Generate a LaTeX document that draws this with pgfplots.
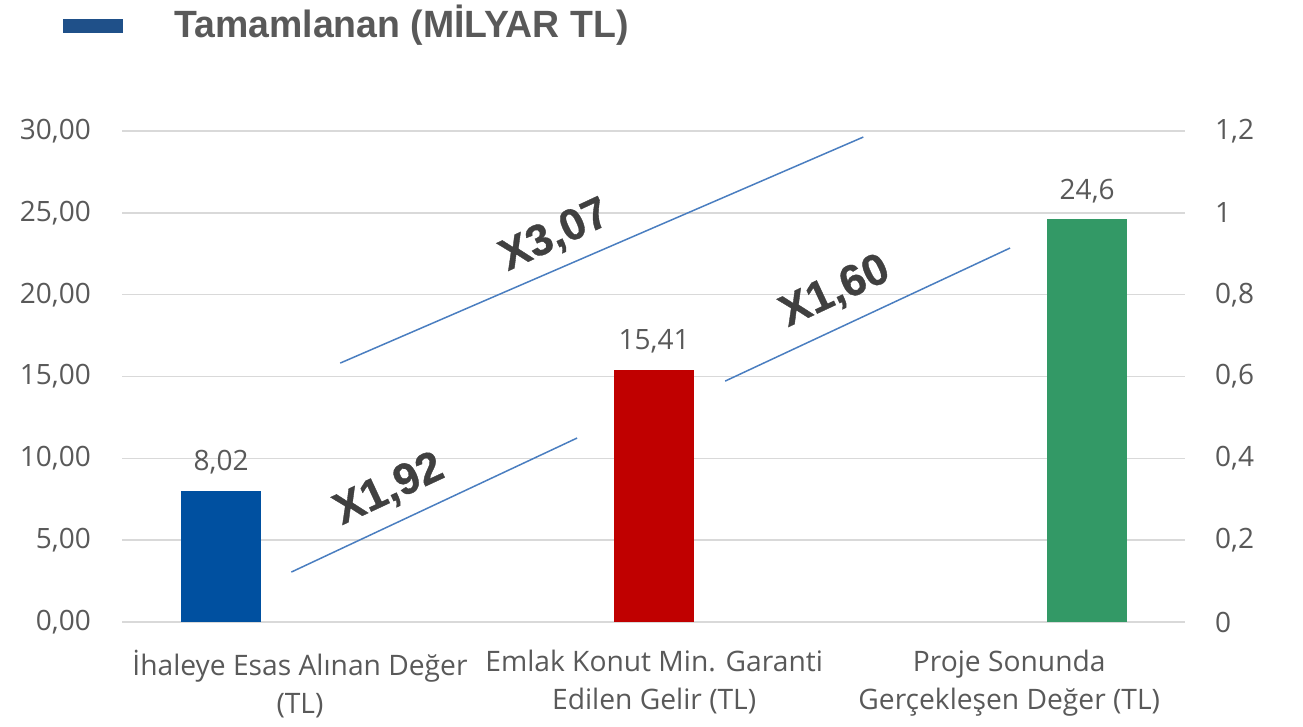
\documentclass[border=0pt]{standalone}
\usepackage{fontspec}
\usepackage{pgfplots}
\pgfplotsset{compat=1.18}
\setmainfont{Open Sans}
\newfontfamily\tickfont{Open Sans}
\newfontfamily\catfont{Open Sans}
\newfontfamily\titlefont[FakeStretch=0.985]{Liberation Sans}
\newfontfamily\annfont[FakeBold=0.8]{Liberation Sans}
\definecolor{txt}{HTML}{595959}
\definecolor{ann}{HTML}{404040}
\definecolor{gridc}{HTML}{D9D9D9}
\definecolor{bA}{HTML}{0050A0}
\definecolor{bB}{HTML}{C00000}
\definecolor{bC}{HTML}{339966}
\definecolor{lnc}{HTML}{4A7EC0}
\definecolor{legc}{HTML}{1F5089}
\begin{document}
\begin{tikzpicture}
\path[use as bounding box] (0,0) rectangle (1303pt,726pt);
\begin{axis}[
  at={(122pt,104pt)}, anchor=south west, scale only axis,
  width=1063pt, height=491pt,
  xmin=-0.229, xmax=2.226, ymin=0, ymax=30,
  ytick={0,5,...,30},
  xtick={0.182,1,1.82},
  xticklabels={{İhaleye Esas Alınan Değer\\(TL)},{Emlak Konut Min. Garanti\\Edilen Gelir (TL)},{Proje Sonunda\\Gerçekleşen Değer (TL)}},
  axis line style={draw=none},
  major tick length=0pt,
  ymajorgrids, grid style={gridc, line width=1.5pt},
  /pgf/number format/assume math mode=true,
  yticklabel style={font=\tickfont\fontsize{28}{30}\selectfont, text=txt, anchor=east, inner sep=0pt, xshift=-31pt,
    /pgf/number format/.cd, fixed, fixed zerofill, precision=2, use comma},
  xticklabel style={font=\catfont\fontsize{28.2}{37.5}\selectfont, text=txt, align=center, anchor=north, inner sep=0pt, yshift=-28pt},
  clip=false,
  legend image code/.code={\fill[#1] (0pt,-6.5pt) rectangle (59pt,6.5pt);},
  legend style={at={(-0.0555,1.2149)}, anchor=west, draw=none, fill=none, inner sep=0pt, outer sep=0pt,
    column sep=0pt, nodes={inner sep=0pt, font=\titlefont\bfseries\fontsize{38}{38}\selectfont, text=txt}},
  nodes near coords style={font=\tickfont\fontsize{28}{30}\selectfont, text=txt, anchor=base, inner sep=0pt, yshift=20pt},
  point meta=explicit symbolic,
]
\addlegendimage{legc}
\addlegendentry{\hspace{52pt}\raisebox{8pt}{Tamamlanan (MİLYAR TL)}}
\addplot[ybar, bar width=80pt, bar shift=0pt, fill=bA, draw=none, nodes near coords] coordinates {(0,8.02) [8,02]};
\addplot[ybar, bar width=80pt, bar shift=0pt, fill=bB, draw=none, nodes near coords] coordinates {(1,15.41) [15,41]};
\addplot[ybar, bar width=80pt, bar shift=0pt, fill=bC, draw=none, nodes near coords] coordinates {(2,24.6) [24,6]};
\addplot[lnc, line width=1.5pt] coordinates {(0.162,3.05) (0.822,11.24)};
\addplot[lnc, line width=1.5pt] coordinates {(0.275,15.82) (1.483,29.63)};
\addplot[lnc, line width=1.5pt] coordinates {(1.164,14.72) (1.822,22.85)};
\node[rotate=25, font=\annfont\bfseries\fontsize{44}{44}\selectfont, text=ann] at (axis cs:0.388,8.06) {X1,92};
\node[rotate=25, font=\annfont\bfseries\fontsize{44}{44}\selectfont, text=ann] at (axis cs:0.771,23.58) {X3,07};
\node[rotate=25, font=\annfont\bfseries\fontsize{44}{44}\selectfont, text=ann] at (axis cs:1.418,20.16) {X1,60};
\end{axis}
\begin{axis}[
  at={(122pt,104pt)}, anchor=south west, scale only axis,
  width=1063pt, height=491pt,
  xmin=-0.229, xmax=2.226, ymin=0, ymax=1.2,
  ytick={0,0.2,0.4,0.6,0.8,1,1.2},
  axis x line=none, axis y line*=right,
  axis line style={draw=none},
  major tick length=0pt,
  /pgf/number format/assume math mode=true,
  yticklabel style={font=\tickfont\fontsize{28}{30}\selectfont, text=txt, anchor=west, inner sep=0pt, xshift=30pt,
    /pgf/number format/.cd, fixed, precision=1, use comma},
]
\addplot[draw=none] coordinates {(0,0)};
\end{axis}
\end{tikzpicture}
\end{document}
